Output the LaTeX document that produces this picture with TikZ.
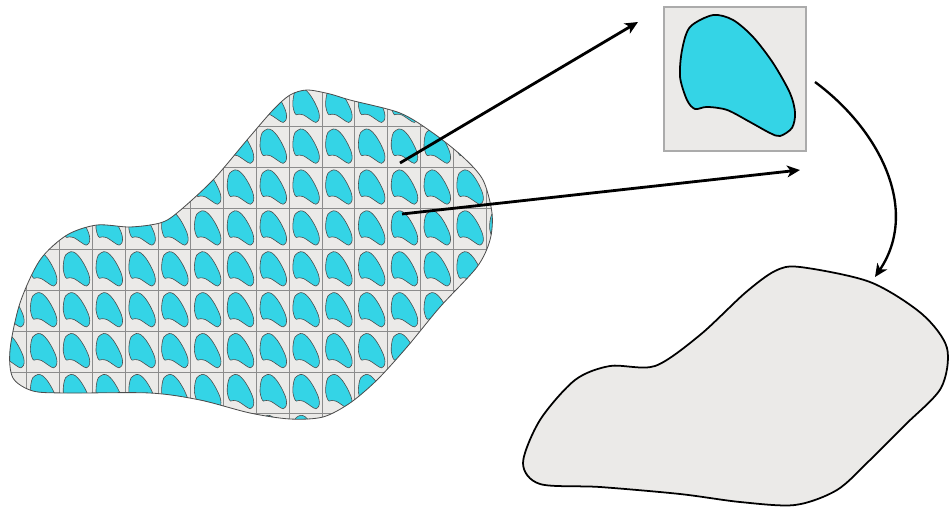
\documentclass[tikz,border=0pt]{standalone}
\usetikzlibrary{arrows.meta}
\definecolor{beancyan}{RGB}{52,212,230}
\definecolor{paper}{RGB}{235,234,232}
\newcommand{\beanshape}{plot[smooth cycle] coordinates {(0.345,0.056) (0.183,0.139) (0.127,0.299) (0.113,0.486) (0.162,0.646) (0.218,0.708) (0.303,0.694) (0.444,0.715) (0.606,0.799) (0.746,0.875) (0.817,0.896) (0.901,0.840) (0.923,0.736) (0.887,0.597) (0.768,0.389) (0.627,0.208) (0.486,0.090)}}
\newcommand{\leftblob}{plot[smooth cycle] coordinates {(13,378) (10,350) (20,303) (40,260) (67,235) (97,225) (130,227) (160,223) (177,213) (213,180) (247,140) (273,110) (290,95) (307,90) (330,94) (350,100) (400,113) (433,133) (463,157) (483,180) (492,213) (490,240) (477,267) (440,307) (407,347) (377,380) (350,403) (323,417) (290,419) (250,413) (200,400) (150,393) (67,393) (33,391)}}
\newcommand{\rightblob}{plot[smooth cycle] coordinates {(800,267) (870,282) (922,314) (947,348) (941,388) (905,425) (870,460) (837,490) (795,505) (740,502) (680,494) (600,487) (540,484) (523,463) (540,420) (575,380) (610,366) (655,366) (700,335) (745,293) (775,271)}}
\begin{document}
\begin{tikzpicture}[>={Stealth[length=11pt,width=10pt,inset=3pt]},x=0.03cm,y=-0.03cm]
\useasboundingbox (0,0) rectangle (949,510);
% tiled region
\begin{scope}
\clip \leftblob;
\fill[paper] (-10,80) rectangle (520,460);
\foreach \i in {-1,...,15}
  \foreach \j in {0,...,8}
  {
  \begin{scope}[shift={({26.7+32.8*\i},{85.8+40.9*\j})},xscale=32.8,yscale=40.9]
  \filldraw[fill=beancyan,draw=black!70,line width=.5pt] \beanshape;
  \end{scope}
  }
\foreach \i in {-1,...,16} \draw[black!45,line width=.5pt] ({26.7+32.8*\i},80) -- ++(0,380);
\foreach \j in {0,...,9} \draw[black!45,line width=.5pt] (-10,{85.8+40.9*\j}) -- ++(530,0);
\end{scope}
\draw[black!70,line width=.7pt] \leftblob;
% one tile
\node[draw=black!33,line width=1.5pt,fill=paper,inner sep=0pt,minimum width=4.26cm,minimum height=4.32cm] (tile) at (735,79) {};
\begin{scope}[shift={(664,7)},xscale=142,yscale=144]
\filldraw[fill=beancyan,line width=1.5pt] \beanshape;
\end{scope}
% target region
\filldraw[fill=paper,line width=1.5pt] \rightblob;
\coordinate (p) at (400,163);
\coordinate (pt) at (638,22);
\coordinate (q) at (402,214);
\coordinate (qt) at (800,170);
\coordinate (r) at (815,82);
\coordinate (rt) at (875,277);
\draw[->,line width=2.4pt] (p) -- (pt);
\draw[->,line width=2.4pt] (q) -- (qt);
\draw[->,line width=2pt] (r) .. controls (880,130) and (920,210) .. (rt);
\end{tikzpicture}
\end{document}
